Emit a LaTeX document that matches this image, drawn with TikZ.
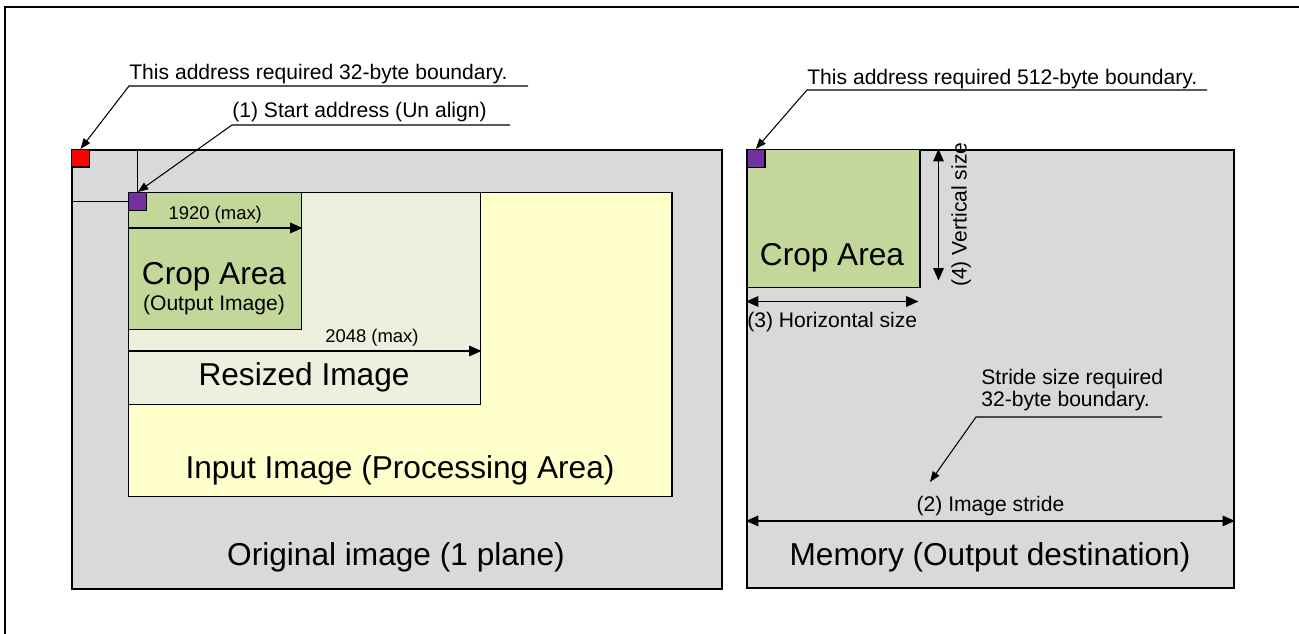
\documentclass[tikz,border=0pt]{standalone}
\usepackage{fontspec}
\setmainfont{Liberation Sans}
\usepackage{tikz}
\usetikzlibrary{arrows.meta}

\definecolor{memgray}{HTML}{D9D9D9}
\definecolor{inputyellow}{HTML}{FFFFCC}
\definecolor{resizegreen}{HTML}{EBF1DE}
\definecolor{cropgreen}{HTML}{C4D79B}
\definecolor{alignred}{HTML}{FF0000}
\definecolor{alignpurple}{HTML}{7030A0}

\begin{document}
\begin{tikzpicture}[
  every node/.style={font=\fontsize{12}{12.5}\selectfont},
  area/.style={draw, line width=0.85pt, anchor=north west, inner sep=0pt},
  bigtext/.style={font=\fontsize{18}{21}\selectfont},
  dimtext/.style={font=\fontsize{10.5}{12}\selectfont, inner sep=2.5pt},
  note/.style={anchor=base west, inner sep=0pt},
  callout/.style={-{Triangle[length=6pt, width=4.5pt]}, line width=0.6pt},
  dimarrow/.style={-{Triangle[length=7pt, width=6pt]}, line width=0.7pt},
  bidim/.style={{Triangle[length=7pt, width=6pt]}-{Triangle[length=7pt, width=6pt]}, line width=0.7pt},
]

\useasboundingbox (0,0) rectangle (25.98,12.68);

% Frame
\draw[line width=1.2pt] (0.1,0) -- (0.1,12.54) -- (25.98,12.54);

% Original image (left)
\node[area, line width=1.1pt, fill=memgray, minimum width=13cm, minimum height=8.78cm] (orig) at (1.42,9.70) {};
\node[area, fill=inputyellow, minimum width=10.86cm, minimum height=6.08cm] (input) at (2.56,8.84) {};
\node[area, fill=resizegreen, minimum width=7.04cm, minimum height=4.24cm] (resized) at (2.56,8.84) {};
\node[area, fill=cropgreen, minimum width=3.46cm, minimum height=2.74cm] (crop) at (2.56,8.84) {};
\node[area, fill=alignred, minimum size=0.35cm] (redsq) at (1.42,9.70) {};
\node[area, fill=alignpurple, minimum size=0.36cm] (startsq) at (2.56,8.84) {};

% Offset guides
\draw[line width=0.6pt] (startsq.north |- orig.north) -- (startsq.north);
\draw[line width=0.6pt] (orig.west |- startsq.west) -- (startsq.west);

\node[bigtext] (croplabel) at (4.28,7.14) {Crop Area};
\node (cropsub) at (4.28,6.58) {(Output Image)};
\node[bigtext] (resizedlabel) at (6.08,5.14) {Resized Image};
\node[bigtext] (inputlabel) at (8.0,3.28) {Input Image (Processing Area)};
\node[bigtext] (origlabel) at (7.92,1.54) {Original image (1 plane)};

% Max widths
\draw[dimarrow] ([yshift=-0.72cm]crop.north west) -- ([yshift=-0.72cm]crop.north east)
  node[midway, above, dimtext] (w1920) {1920 (max)};
\draw[dimarrow] ([yshift=-3.18cm]resized.north west) -- ([yshift=-3.18cm]resized.north east)
  node[pos=0.69, above, dimtext] (w2048) {2048 (max)};

% Callouts (left)
\node[note] (note32) at (2.58,11.08) {This address required 32-byte boundary.};
\coordinate (note32r) at (10.56,10.96);
\draw[callout] (note32r) -- (note32r -| note32.west) -- (redsq.north);

\node[note] (note1) at (4.64,10.32) {(1) Start address (Un align)};
\coordinate (note1r) at (10.20,10.18);
\draw[callout] (note1r) -- (note1r -| note1.west) -- (startsq.north);

% Memory (right)
\node[area, line width=1.1pt, fill=memgray, minimum width=9.74cm, minimum height=8.76cm] (mem) at (14.92,9.70) {};
\node[area, fill=cropgreen, minimum width=3.46cm, minimum height=2.76cm] (cropout) at (14.92,9.70) {};
\node[area, fill=alignpurple, minimum size=0.36cm] (destsq) at (14.92,9.70) {};
\node[bigtext] (cropoutlabel) at (16.64,7.52) {Crop Area};
\node[bigtext] (memlabel) at (19.80,1.54) {Memory (Output destination)};

% Sizes
\draw[bidim] ([yshift=-0.26cm]cropout.south west) -- ([yshift=-0.26cm, xshift=-0.04cm]cropout.south east)
  node[midway, below, inner sep=6pt] (hsize) {(3) Horizontal size};
\draw[bidim] ([xshift=0.36cm]cropout.north east) -- ([xshift=0.36cm, yshift=0.16cm]cropout.south east)
  node[midway, anchor=north, rotate=90, inner sep=7pt] (vsize) {(4) Vertical size};
\draw[bidim] ([yshift=1.36cm]mem.south west) -- ([yshift=1.36cm]mem.south east)
  node[midway, above, inner sep=2.5pt] (stride) {(2) Image stride};

% Callouts (right)
\node[note] (note512) at (16.14,10.98) {This address required 512-byte boundary.};
\coordinate (note512r) at (24.14,10.88);
\draw[callout] (note512r) -- (note512r -| note512.west) -- (destsq.north);

\node[anchor=north west, inner sep=0pt, align=left] (stridenote) at (19.62,5.30) {Stride size required\\32-byte boundary.};
\coordinate (strider) at (23.24,4.34);
\coordinate (stridel) at (19.52,4.34);
\coordinate (stridetip) at (18.60,3.04);
\draw[callout] (strider) -- (stridel) -- (stridetip);

\end{tikzpicture}
\end{document}
